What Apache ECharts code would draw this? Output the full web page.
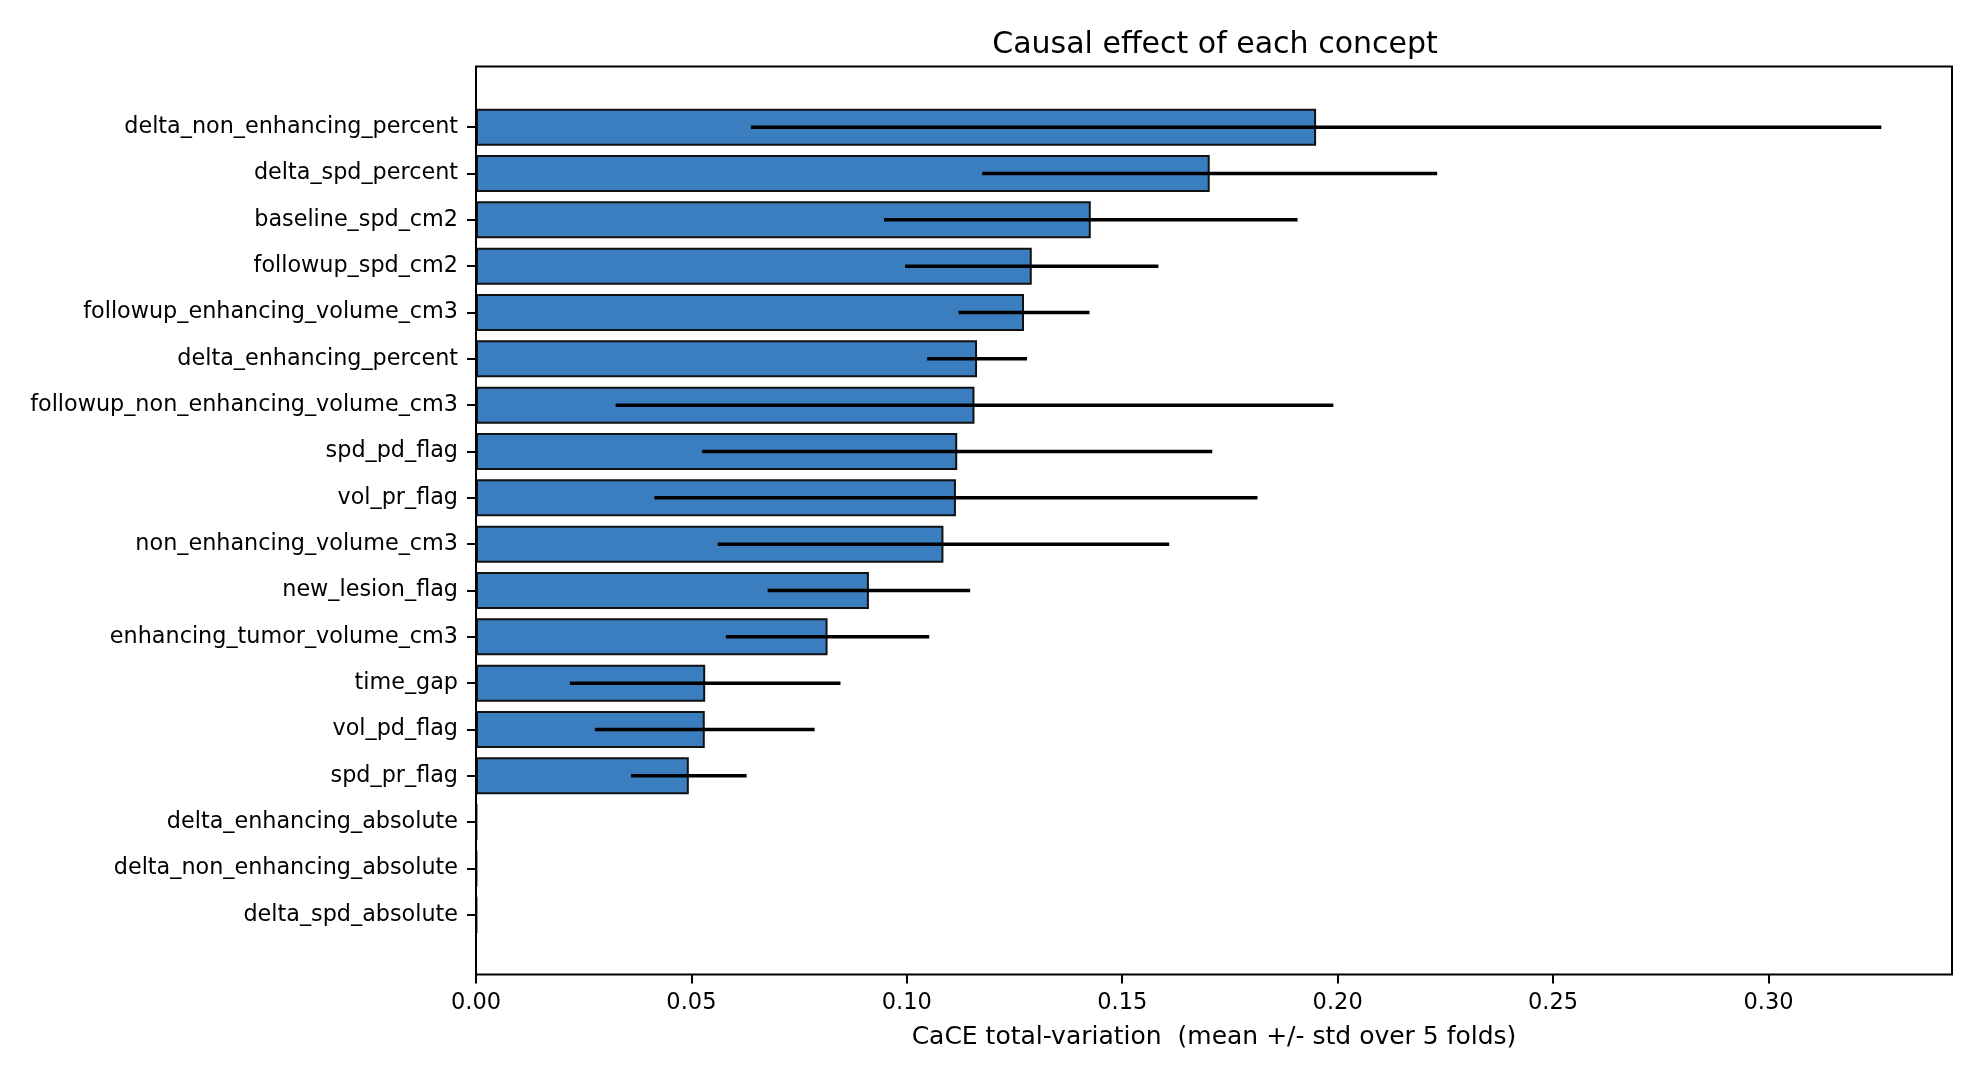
<!DOCTYPE html>
<html>
<head>
<meta charset="utf-8">
<script src="https://cdn.jsdelivr.net/npm/echarts@6/dist/echarts.min.js"></script>
<style>
  html, body { margin: 0; padding: 0; background: #fff; }
  #chart { width: 1980px; height: 1080px; }
</style>
</head>
<body>
<div id="chart"></div>
<script>
// concepts, top to bottom
var concepts = [
  'delta_non_enhancing_percent', 'delta_spd_percent', 'baseline_spd_cm2',
  'followup_spd_cm2', 'followup_enhancing_volume_cm3', 'delta_enhancing_percent',
  'followup_non_enhancing_volume_cm3', 'spd_pd_flag', 'vol_pr_flag',
  'non_enhancing_volume_cm3', 'new_lesion_flag', 'enhancing_tumor_volume_cm3',
  'time_gap', 'vol_pd_flag', 'spd_pr_flag', 'delta_enhancing_absolute',
  'delta_non_enhancing_absolute', 'delta_spd_absolute'
];
var means = [0.1950, 0.1703, 0.1427, 0.1290, 0.1272, 0.1163, 0.1157, 0.1117, 0.1114,
             0.1085, 0.0912, 0.0816, 0.0532, 0.0531, 0.0494, 0.0002, 0.0002, 0.0002];
var stds  = [0.1312, 0.0528, 0.0480, 0.0294, 0.0152, 0.0116, 0.0833, 0.0592, 0.0700,
             0.0524, 0.0235, 0.0236, 0.0314, 0.0255, 0.0134, 0, 0, 0];
var xTicks = [0, 0.05, 0.10, 0.15, 0.20, 0.25, 0.30];
var xMax = 0.3426;

var font = 'DejaVu Sans';
var errData = means.map(function (m, i) { return [i, m, stds[i]]; });

var myChart = echarts.init(document.getElementById('chart'));
var option = {
  animation: false,
  backgroundColor: '#fff',
  title: {
    text: 'Causal effect of each concept',
    left: 1210, top: 25, textAlign: 'center',
    textStyle: { fontFamily: font, fontSize: 30, fontWeight: 'normal', color: '#000' }
  },
  grid: [
    // bars live here (category band area)
    { left: 476, right: 28, top: 104, height: 834 },
    // frame + x axis
    { left: 476, right: 28, top: 66.5, height: 908, show: true,
      borderColor: '#000', borderWidth: 2, backgroundColor: 'transparent', z: 5 }
  ],
  xAxis: [
    { type: 'value', gridIndex: 0, min: 0, max: xMax, show: false },
    {
      type: 'value', gridIndex: 1, min: 0, max: xMax,
      axisLine: { show: false },
      axisTick: { show: true, length: 9, lineStyle: { color: '#000', width: 2 }, customValues: xTicks },
      splitLine: { show: false },
      axisLabel: {
        color: '#000', fontFamily: font, fontSize: 22.5, margin: 17,
        customValues: xTicks,
        formatter: function (v) { return v.toFixed(2); }
      },
      name: 'CaCE total-variation  (mean +/- std over 5 folds)',
      nameLocation: 'middle', nameGap: 50,
      nameTextStyle: { color: '#000', fontFamily: font, fontSize: 25 }
    }
  ],
  yAxis: [
    {
      type: 'category', gridIndex: 0, data: concepts, inverse: true,
      axisLine: { show: false },
      axisTick: { show: true, alignWithLabel: true, length: 9, lineStyle: { color: '#000', width: 2 } },
      axisLabel: { color: '#000', fontFamily: font, fontSize: 22.3, margin: 18, padding: [5, 0, 0, 0] },
      splitLine: { show: false }
    },
    { type: 'value', gridIndex: 1, show: false, min: 0, max: 1 }
  ],
  series: [
    {
      type: 'bar', xAxisIndex: 0, yAxisIndex: 0,
      data: means, barWidth: '80%',
      itemStyle: { color: '#3a7ebf', borderColor: '#111', borderWidth: 2 }
    },
    {
      type: 'custom', xAxisIndex: 0, yAxisIndex: 0, z: 4,
      data: errData,
      renderItem: function (params, api) {
        var idx = api.value(0), m = api.value(1), s = api.value(2);
        if (!s) return null;
        var a = api.coord([m - s, idx]);
        var b = api.coord([m + s, idx]);
        return {
          type: 'line',
          shape: { x1: a[0], y1: a[1], x2: b[0], y2: b[1] },
          style: { stroke: '#000', lineWidth: 3.5 }
        };
      }
    }
  ]
};
myChart.setOption(option);
</script>
</body>
</html>
